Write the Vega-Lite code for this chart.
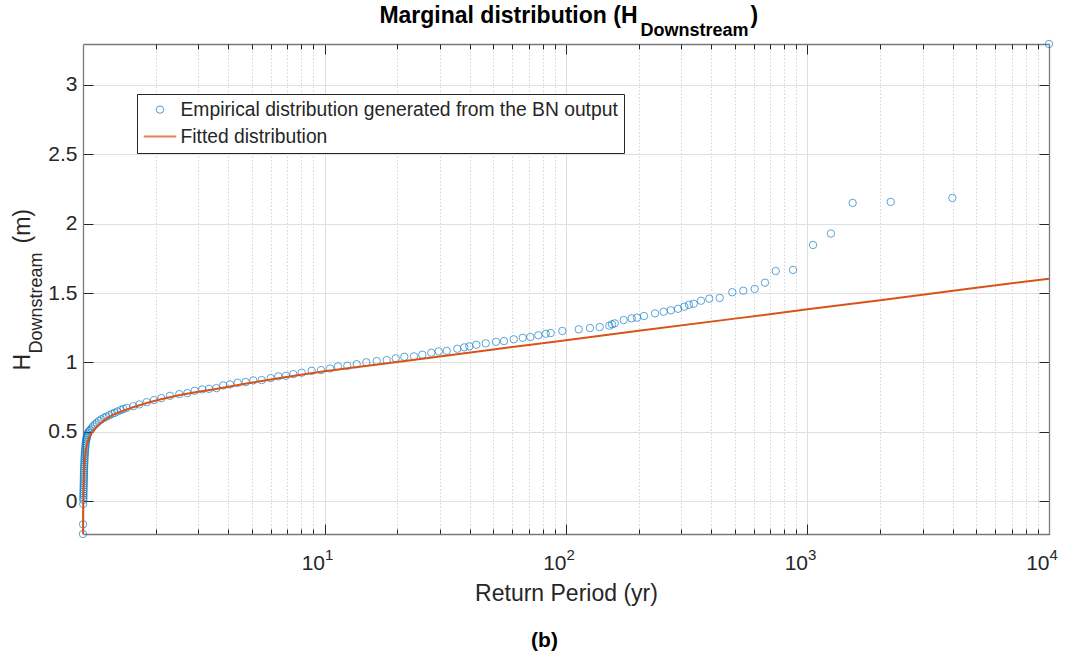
{
  "$schema": "https://vega.github.io/schema/vega-lite/v6.json",
  "width": 966,
  "height": 490,
  "autosize": "none",
  "padding": {"left": 83, "top": 44, "right": 21, "bottom": 123},
  "background": "white",
  "config": {
    "view": {"stroke": null},
    "font": "Liberation Sans",
    "axis": {
      "labelFont": "Liberation Sans",
      "titleFont": "Liberation Sans",
      "labelColor": "#262626",
      "titleColor": "#262626",
      "titleFontWeight": "normal",
      "domainColor": "#7a7a7a",
      "domainWidth": 1.3,
      "tickColor": "#262626",
      "tickWidth": 1,
      "gridWidth": 1,
      "labelOverlap": false,
      "labelFlush": false,
      "labelBound": false
    },
    "legend": {
      "labelFont": "Liberation Sans",
      "labelFontSize": 19.3,
      "labelColor": "#262626",
      "labelLimit": 700
    }
  },
  "datasets": {
    "emp": [
      {"rp": 1.0001, "h": -0.236}, {"rp": 1.0005, "h": -0.166}, {"rp": 1.002, "h": -0.02},
      {"rp": 1.003, "h": 0.01}, {"rp": 1.0035, "h": 0.025}, {"rp": 1.004, "h": 0.04},
      {"rp": 1.0045, "h": 0.055}, {"rp": 1.005, "h": 0.07}, {"rp": 1.0055, "h": 0.085},
      {"rp": 1.006, "h": 0.10}, {"rp": 1.0065, "h": 0.115}, {"rp": 1.007, "h": 0.13},
      {"rp": 1.0075, "h": 0.145}, {"rp": 1.008, "h": 0.16}, {"rp": 1.0085, "h": 0.175},
      {"rp": 1.009, "h": 0.19}, {"rp": 1.0095, "h": 0.205}, {"rp": 1.010, "h": 0.22},
      {"rp": 1.0105, "h": 0.235}, {"rp": 1.011, "h": 0.25}, {"rp": 1.012, "h": 0.265},
      {"rp": 1.013, "h": 0.28}, {"rp": 1.014, "h": 0.295}, {"rp": 1.015, "h": 0.31},
      {"rp": 1.016, "h": 0.325}, {"rp": 1.017, "h": 0.34}, {"rp": 1.0185, "h": 0.355},
      {"rp": 1.020, "h": 0.37}, {"rp": 1.022, "h": 0.385}, {"rp": 1.024, "h": 0.40},
      {"rp": 1.026, "h": 0.415}, {"rp": 1.029, "h": 0.43}, {"rp": 1.032, "h": 0.443},
      {"rp": 1.035, "h": 0.455}, {"rp": 1.038, "h": 0.465}, {"rp": 1.042, "h": 0.475},
      {"rp": 1.047, "h": 0.485}, {"rp": 1.052, "h": 0.495}, {"rp": 1.06, "h": 0.505},
      {"rp": 1.07, "h": 0.513}, {"rp": 1.086, "h": 0.525}, {"rp": 1.10, "h": 0.54},
      {"rp": 1.121, "h": 0.553}, {"rp": 1.14, "h": 0.565}, {"rp": 1.165, "h": 0.579},
      {"rp": 1.19, "h": 0.59}, {"rp": 1.222, "h": 0.601}, {"rp": 1.25, "h": 0.61},
      {"rp": 1.285, "h": 0.620}, {"rp": 1.32, "h": 0.63}, {"rp": 1.353, "h": 0.637},
      {"rp": 1.39, "h": 0.647}, {"rp": 1.433, "h": 0.657}, {"rp": 1.47, "h": 0.665},
      {"rp": 1.517, "h": 0.673}, {"rp": 1.615, "h": 0.685}, {"rp": 1.711, "h": 0.698},
      {"rp": 1.835, "h": 0.714}, {"rp": 1.968, "h": 0.729}, {"rp": 2.110, "h": 0.743},
      {"rp": 2.292, "h": 0.760}, {"rp": 2.505, "h": 0.772}, {"rp": 2.704, "h": 0.779},
      {"rp": 2.901, "h": 0.796}, {"rp": 3.119, "h": 0.806}, {"rp": 3.325, "h": 0.810},
      {"rp": 3.565, "h": 0.815}, {"rp": 3.810, "h": 0.835}, {"rp": 4.062, "h": 0.842},
      {"rp": 4.371, "h": 0.854}, {"rp": 4.717, "h": 0.859}, {"rp": 5.073, "h": 0.871},
      {"rp": 5.495, "h": 0.873}, {"rp": 5.986, "h": 0.887}, {"rp": 6.438, "h": 0.900},
      {"rp": 6.928, "h": 0.904}, {"rp": 7.428, "h": 0.916}, {"rp": 8.046, "h": 0.926},
      {"rp": 8.851, "h": 0.940}, {"rp": 9.672, "h": 0.945}, {"rp": 10.54, "h": 0.957},
      {"rp": 11.37, "h": 0.972}, {"rp": 12.43, "h": 0.976}, {"rp": 13.59, "h": 0.988},
      {"rp": 14.90, "h": 1.001}, {"rp": 16.45, "h": 1.010}, {"rp": 18.09, "h": 1.017},
      {"rp": 19.72, "h": 1.030}, {"rp": 21.40, "h": 1.041}, {"rp": 23.48, "h": 1.044},
      {"rp": 25.41, "h": 1.056}, {"rp": 27.69, "h": 1.070}, {"rp": 29.71, "h": 1.080},
      {"rp": 32.07, "h": 1.084}, {"rp": 35.47, "h": 1.099}, {"rp": 37.93, "h": 1.109},
      {"rp": 39.78, "h": 1.116}, {"rp": 42.53, "h": 1.128}, {"rp": 46.51, "h": 1.138},
      {"rp": 51.30, "h": 1.149}, {"rp": 55.38, "h": 1.154}, {"rp": 60.73, "h": 1.167},
      {"rp": 66.18, "h": 1.178}, {"rp": 71.15, "h": 1.183}, {"rp": 76.80, "h": 1.196},
      {"rp": 82.40, "h": 1.207}, {"rp": 86.44, "h": 1.212}, {"rp": 96.54, "h": 1.227},
      {"rp": 112.9, "h": 1.239}, {"rp": 125.7, "h": 1.248}, {"rp": 137.9, "h": 1.255},
      {"rp": 151.1, "h": 1.265}, {"rp": 155.1, "h": 1.275}, {"rp": 159.1, "h": 1.282},
      {"rp": 173.4, "h": 1.306}, {"rp": 187.1, "h": 1.318}, {"rp": 196.8, "h": 1.323},
      {"rp": 210.4, "h": 1.335}, {"rp": 233.7, "h": 1.354}, {"rp": 253.9, "h": 1.366},
      {"rp": 271.4, "h": 1.376}, {"rp": 290.9, "h": 1.387}, {"rp": 309.0, "h": 1.402},
      {"rp": 323.1, "h": 1.416}, {"rp": 337.9, "h": 1.423}, {"rp": 362.2, "h": 1.445},
      {"rp": 392.1, "h": 1.460}, {"rp": 433.0, "h": 1.465}, {"rp": 488.2, "h": 1.506},
      {"rp": 542.3, "h": 1.517}, {"rp": 604.5, "h": 1.530}, {"rp": 666.8, "h": 1.575},
      {"rp": 738.5, "h": 1.659}, {"rp": 871, "h": 1.667}, {"rp": 1054, "h": 1.847},
      {"rp": 1250, "h": 1.929}, {"rp": 1538, "h": 2.150}, {"rp": 2211, "h": 2.157},
      {"rp": 3980, "h": 2.186}, {"rp": 10000, "h": 3.295}
    ],
    "fit": [
      {"rp": 1.0001, "h": -0.236}, {"rp": 1.0008, "h": -0.12}, {"rp": 1.002, "h": -0.03},
      {"rp": 1.003, "h": 0.0}, {"rp": 1.005, "h": 0.07}, {"rp": 1.007, "h": 0.12},
      {"rp": 1.01, "h": 0.19}, {"rp": 1.014, "h": 0.25}, {"rp": 1.019, "h": 0.30},
      {"rp": 1.025, "h": 0.345}, {"rp": 1.032, "h": 0.385}, {"rp": 1.04, "h": 0.415},
      {"rp": 1.052, "h": 0.445}, {"rp": 1.068, "h": 0.47}, {"rp": 1.086, "h": 0.49},
      {"rp": 1.11, "h": 0.513}, {"rp": 1.139, "h": 0.536}, {"rp": 1.19, "h": 0.565},
      {"rp": 1.254, "h": 0.597}, {"rp": 1.33, "h": 0.622}, {"rp": 1.423, "h": 0.644},
      {"rp": 1.6, "h": 0.676}, {"rp": 1.836, "h": 0.708}, {"rp": 2.1, "h": 0.735},
      {"rp": 2.52, "h": 0.765}, {"rp": 3.0, "h": 0.789}, {"rp": 3.46, "h": 0.806},
      {"rp": 4.0, "h": 0.825}, {"rp": 4.76, "h": 0.849}, {"rp": 5.5, "h": 0.866},
      {"rp": 6.54, "h": 0.888}, {"rp": 8.0, "h": 0.912}, {"rp": 10, "h": 0.936},
      {"rp": 14, "h": 0.969}, {"rp": 20, "h": 1.004}, {"rp": 30, "h": 1.043},
      {"rp": 50, "h": 1.094}, {"rp": 70, "h": 1.126}, {"rp": 100, "h": 1.161},
      {"rp": 200, "h": 1.228}, {"rp": 500, "h": 1.316}, {"rp": 1000, "h": 1.383},
      {"rp": 2000, "h": 1.449}, {"rp": 5000, "h": 1.538}, {"rp": 10000, "h": 1.604}
    ]
  },
  "layer": [
    {
      "data": {"name": "emp"},
      "mark": {"type": "point", "filled": false, "clip": false, "strokeOpacity": 0.9},
      "encoding": {
        "x": {
          "field": "rp", "type": "quantitative",
          "scale": {"type": "log", "domain": [1, 10000], "nice": false},
          "axis": {
            "orient": "bottom",
            "values": [2,3,4,5,6,7,8,9,10,20,30,40,50,60,70,80,90,100,200,300,400,500,600,700,800,900,1000,2000,3000,4000,5000,6000,7000,8000,9000,10000],
            "labelExpr": "indexof([10,100,1000,10000], datum.value) >= 0 ? '10' : ''",
            "labelAlign": "right", "labelDx": 5, "labelBaseline": "alphabetic",
            "labelPadding": 40, "labelFontSize": 21,
            "tickSize": -5,
            "grid": true,
            "gridColor": {"condition": {"test": "indexof([10,100,1000,10000], datum.value) >= 0", "value": "#dedede"}, "value": "#d4d4d4"},
            "gridDash": {"condition": {"test": "indexof([10,100,1000,10000], datum.value) >= 0", "value": []}, "value": [1.5, 2]},
            "domain": true,
            "title": "Return Period (yr)", "titleFontSize": 23,
            "titleX": 483, "titleY": 66, "titleAlign": "center", "titleBaseline": "alphabetic"
          }
        },
        "y": {
          "field": "h", "type": "quantitative",
          "scale": {"domain": [-0.236, 3.295], "nice": false, "zero": false},
          "axis": {
            "orient": "left",
            "values": [0, 0.5, 1, 1.5, 2, 2.5, 3],
            "format": "~g",
            "labelFontSize": 21, "labelPadding": 16, "labelBaseline": "middle",
            "tickSize": -10,
            "grid": true, "gridColor": "#e0e0e0",
            "domain": true,
            "title": "H", "titleFontSize": 23, "titleAngle": 270,
            "titleX": -54, "titleY": 326, "titleAlign": "left", "titleBaseline": "alphabetic"
          }
        },
        "color": {
          "datum": "Empirical distribution generated from the BN output", "type": "nominal",
          "scale": {"domain": ["Empirical distribution generated from the BN output", "Fitted distribution"], "range": ["#0072BD", "#D95319"]},
          "legend": {
            "orient": "none", "legendX": 54, "legendY": 50, "title": null,
            "padding": 6, "rowPadding": 3, "symbolOffset": 3.5, "labelOffset": 7,
            "strokeColor": "#262626", "fillColor": "white"
          }
        },
        "shape": {
          "datum": "Empirical distribution generated from the BN output", "type": "nominal",
          "scale": {"domain": ["Empirical distribution generated from the BN output", "Fitted distribution"], "range": ["circle", "M-1.3,0H1.3"]},
          "legend": {"orient": "none", "legendX": 54, "legendY": 50, "title": null}
        },
        "size": {
          "datum": "Empirical distribution generated from the BN output", "type": "nominal",
          "scale": {"domain": ["Empirical distribution generated from the BN output", "Fitted distribution"], "range": [55, 625]},
          "legend": {"orient": "none", "legendX": 54, "legendY": 50, "title": null}
        },
        "strokeWidth": {
          "datum": "Empirical distribution generated from the BN output", "type": "nominal",
          "scale": {"domain": ["Empirical distribution generated from the BN output", "Fitted distribution"], "range": [1, 2]},
          "legend": {"orient": "none", "legendX": 54, "legendY": 50, "title": null}
        }
      }
    },
    {
      "data": {"name": "fit"},
      "mark": {"type": "line", "strokeWidth": 2, "clip": false},
      "encoding": {
        "x": {
          "field": "rp", "type": "quantitative",
          "axis": {
            "orient": "bottom",
            "values": [10, 100, 1000, 10000],
            "labelExpr": "format(round(log(datum.value) / LN10), 'd')",
            "labelAlign": "left", "labelDx": 5, "labelBaseline": "alphabetic",
            "labelPadding": 25, "labelFontSize": 15,
            "ticks": false, "grid": false, "domain": false,
            "title": "(b)", "titleFontSize": 21, "titleFontWeight": "bold", "titleColor": "#000000",
            "titleX": 461, "titleY": 112, "titleAlign": "center", "titleBaseline": "alphabetic"
          }
        },
        "y": {
          "field": "h", "type": "quantitative",
          "axis": {
            "orient": "right",
            "values": [0, 0.5, 1, 1.5, 2, 2.5, 3],
            "labels": false, "tickSize": -10, "grid": false, "domain": true, "title": null
          }
        },
        "color": {
          "datum": "Fitted distribution", "type": "nominal",
          "legend": {"orient": "none", "legendX": 54, "legendY": 50, "title": null}
        }
      }
    },
    {
      "data": {"name": "fit"},
      "mark": {"type": "point", "opacity": 0},
      "encoding": {
        "x": {
          "field": "rp", "type": "quantitative",
          "axis": {
            "orient": "bottom", "values": [10, 100, 1000, 10000],
            "labels": false, "tickSize": -10, "grid": false, "domain": false, "title": null
          }
        },
        "y": {
          "field": "h", "type": "quantitative",
          "axis": {
            "orient": "left", "labels": false, "ticks": false, "grid": false, "domain": false,
            "title": "Downstream", "titleFontSize": 18, "titleAngle": 270,
            "titleX": -42, "titleY": 309, "titleAlign": "left", "titleBaseline": "alphabetic"
          }
        }
      }
    },
    {
      "data": {"name": "fit"},
      "mark": {"type": "point", "opacity": 0},
      "encoding": {
        "x": {
          "field": "rp", "type": "quantitative",
          "axis": {
            "orient": "top", "values": [10, 100, 1000, 10000],
            "labels": false, "tickSize": -10, "grid": false, "domain": true,
            "title": "Marginal distribution (H", "titleFontSize": 23, "titleFontWeight": "bold", "titleColor": "#000000",
            "titleX": 554, "titleY": -22, "titleAlign": "right", "titleBaseline": "alphabetic"
          }
        },
        "y": {
          "field": "h", "type": "quantitative",
          "axis": {
            "orient": "left", "labels": false, "ticks": false, "grid": false, "domain": false,
            "title": "(m)", "titleFontSize": 23, "titleAngle": 270,
            "titleX": -54, "titleY": 199, "titleAlign": "left", "titleBaseline": "alphabetic"
          }
        }
      }
    },
    {
      "data": {"name": "fit"},
      "mark": {"type": "point", "opacity": 0},
      "encoding": {
        "x": {
          "field": "rp", "type": "quantitative",
          "axis": {
            "orient": "top",
            "values": [2,3,4,5,6,7,8,9,20,30,40,50,60,70,80,90,200,300,400,500,600,700,800,900,2000,3000,4000,5000,6000,7000,8000,9000],
            "labels": false, "tickSize": -5, "grid": false, "domain": false,
            "title": "Downstream", "titleFontSize": 18, "titleFontWeight": "bold", "titleColor": "#000000",
            "titleX": 557, "titleY": -9, "titleAlign": "left", "titleBaseline": "alphabetic"
          }
        },
        "y": {"field": "h", "type": "quantitative", "axis": null}
      }
    },
    {
      "data": {"name": "fit"},
      "mark": {"type": "point", "opacity": 0},
      "encoding": {
        "x": {
          "field": "rp", "type": "quantitative",
          "axis": {
            "orient": "top", "labels": false, "ticks": false, "grid": false, "domain": false,
            "title": ")", "titleFontSize": 23, "titleFontWeight": "bold", "titleColor": "#000000",
            "titleX": 667, "titleY": -22, "titleAlign": "left", "titleBaseline": "alphabetic"
          }
        },
        "y": {"field": "h", "type": "quantitative", "axis": null}
      }
    }
  ],
  "resolve": {"axis": {"x": "independent", "y": "independent"}}
}
